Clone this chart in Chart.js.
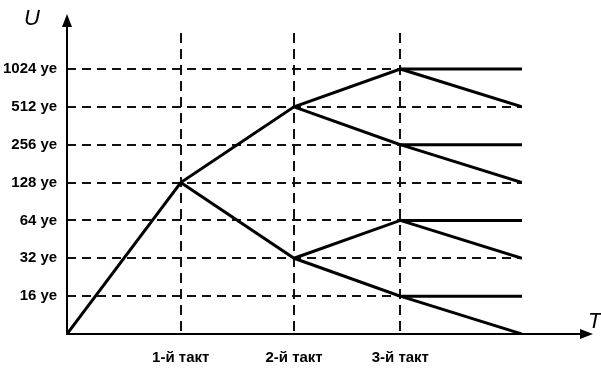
<!DOCTYPE html>
<html lang="ru">
<head>
<meta charset="utf-8">
<title>Такты</title>
<script src="https://cdn.jsdelivr.net/npm/chart.js@4"></script>
<style>
    html, body { margin: 0; padding: 0; background: #fff; }
    #chart-wrap { width: 601px; height: 369px; }
</style>
</head>
<body>
<div id="chart-wrap"><canvas id="takt-chart" width="601" height="369"></canvas></div>
<script>
// Level labels on the U axis (index = level, 0 is the origin)
const levelLabels = ['', '16 уе', '32 уе', '64 уе', '128 уе', '256 уе', '512 уе', '1024 уе'];
const levelTicks = [1, 2, 3, 4, 5, 6, 7];

// Column positions on the T axis: origin, three takts, end of drawing
const columnX = [0, 1, 1.996, 2.93, 4];
const taktLabels = ['1-й такт', '2-й такт', '3-й такт'];
const taktTicks = [1, 2, 3]; // indexes into columnX

// Each branch: column it starts at and the levels it passes through
const branchStart = [0, 3, 2, 3, 1, 3, 2, 3];
const branchLevels = [
    [0, 4, 6, 7, 7],
    [7, 6],
    [6, 5, 5],
    [5, 4],
    [4, 2, 3, 3],
    [3, 2],
    [2, 1, 1],
    [1, 0]
];

document.addEventListener('DOMContentLoaded', function() {
    initializeChart();
});

function buildDatasets() {
    return branchLevels.map((levels, i) => ({
        data: levels.map((lvl, k) => ({ x: columnX[branchStart[i] + k], y: lvl })),
        showLine: true,
        borderColor: '#000',
        borderWidth: 3,
        borderJoinStyle: 'miter',
        pointRadius: 0,
        tension: 0
    }));
}

// Axes with arrow heads and the U / T captions
const arrowAxes = {
    id: 'arrowAxes',
    afterDraw(chart) {
        const { ctx, chartArea } = chart;
        const x0 = chartArea.left;
        const y0 = chartArea.bottom;
        const yTip = chartArea.top - 19;
        const xTip = chartArea.right + 71;

        ctx.save();
        ctx.strokeStyle = '#000';
        ctx.fillStyle = '#000';
        ctx.lineWidth = 2;
        ctx.setLineDash([]);

        ctx.beginPath();
        ctx.moveTo(x0, y0);
        ctx.lineTo(x0, yTip + 12);
        ctx.moveTo(x0 - 1, y0);
        ctx.lineTo(xTip - 12, y0);
        ctx.stroke();

        // arrow heads
        ctx.beginPath();
        ctx.moveTo(x0, yTip);
        ctx.lineTo(x0 - 5, yTip + 13);
        ctx.lineTo(x0 + 5, yTip + 13);
        ctx.closePath();
        ctx.fill();

        ctx.beginPath();
        ctx.moveTo(xTip, y0);
        ctx.lineTo(xTip - 13, y0 - 5);
        ctx.lineTo(xTip - 13, y0 + 5);
        ctx.closePath();
        ctx.fill();

        ctx.font = 'italic 22px "Liberation Sans", Arial, sans-serif';
        ctx.textBaseline = 'alphabetic';
        ctx.textAlign = 'left';
        ctx.fillText('U', x0 - 43, yTip + 11);
        ctx.fillText('T', xTip - 5, y0 - 6);
        ctx.restore();
    }
};

function initializeChart() {
    const canvas = document.getElementById('takt-chart');
    if (!canvas) return;

    new Chart(canvas, {
        type: 'scatter',
        data: { datasets: buildDatasets() },
        options: {
            responsive: false,
            animation: false,
            layout: {
                padding: { top: 33, right: 79, left: 0, bottom: 0 }
            },
            plugins: {
                legend: { display: false },
                tooltip: { enabled: false }
            },
            scales: {
                x: {
                    type: 'linear',
                    min: 0,
                    max: 4,
                    afterBuildTicks: axis => {
                        axis.ticks = taktTicks.map(i => ({ value: columnX[i] }));
                    },
                    afterFit: axis => { axis.height = 35; },
                    grid: { color: '#111', lineWidth: 2, drawTicks: false },
                    border: { display: false, dash: [10, 6] },
                    ticks: {
                        color: '#000',
                        padding: 15,
                        maxRotation: 0,
                        font: { family: '"Liberation Sans", Arial, sans-serif', size: 15, weight: 'bold' },
                        callback: (value, index) => taktLabels[index]
                    }
                },
                y: {
                    type: 'linear',
                    min: 0,
                    max: 7.95,
                    afterBuildTicks: axis => {
                        axis.ticks = levelTicks.map(v => ({ value: v }));
                    },
                    afterFit: axis => { axis.width = 67; },
                    grid: { color: '#111', lineWidth: 2, drawTicks: false },
                    border: { display: false, dash: [9, 6] },
                    ticks: {
                        color: '#000',
                        padding: 10,
                        font: { family: '"Liberation Sans", Arial, sans-serif', size: 15, weight: 'bold' },
                        callback: value => levelLabels[value]
                    }
                }
            }
        },
        plugins: [arrowAxes]
    });
}
</script>
</body>
</html>
